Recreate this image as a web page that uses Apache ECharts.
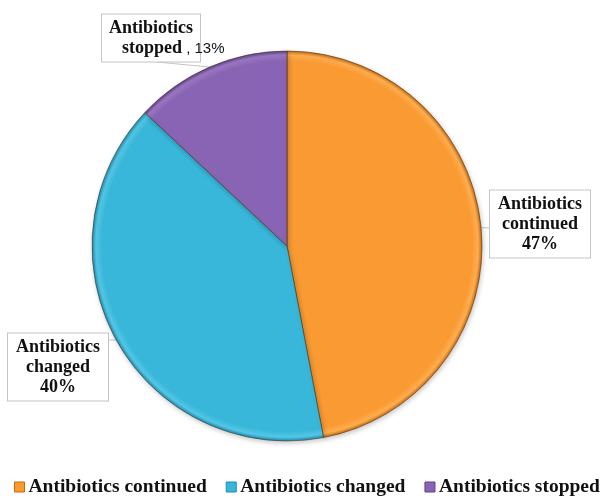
<!DOCTYPE html>
<html>
<head>
<meta charset="utf-8">
<script src="https://cdn.jsdelivr.net/npm/echarts@6/dist/echarts.min.js"></script>
<style>
  html, body { margin: 0; padding: 0; background: #fff; }
  #chart { width: 607px; height: 498px; }
</style>
</head>
<body>
<div id="chart"></div>
<script>
// Outcome of antibiotic therapy (percent of patients)
const categories = ['Antibiotics continued', 'Antibiotics changed', 'Antibiotics stopped'];
const shares = [47, 40, 13];
const colors = ['#FA9A32', '#38B7DA', '#8A64B4'];
const lightColors = ['#FFAE52', '#55C6E4', '#9A78C2'];
const darkColors = ['#C86A0C', '#1A8CB2', '#5E3F88'];

const CX = 287, CY = 246, R = 195;

const chart = echarts.init(document.getElementById('chart'));

// bevelled shading shared by all slices, centred on the pie itself
function fillFor(i) {
  return new echarts.graphic.RadialGradient(CX, CY, R, [
    { offset: 0, color: colors[i] },
    { offset: 0.95, color: colors[i] },
    { offset: 0.98, color: lightColors[i] },
    { offset: 1, color: darkColors[i] }
  ], true);
}

const textBase = {
  color: '#111',
  fontFamily: 'Liberation Serif',
  fontWeight: 'bold',
  fontSize: 18,
  lineHeight: 20
};

// call-out box positions and where each leader line meets its box
const labelSpots = [
  { x: 540, y: 224, align: 'center', anchor: [490, 228] },
  { x: 58, y: 367, align: 'center', anchor: [108, 340] },
  { x: 102, y: 38, align: 'left', anchor: [157, 62] }
];

const data = categories.map((name, i) => ({
  name,
  value: shares[i],
  itemStyle: { color: fillFor(i) }
}));

// 'stopped' label: fixed-width box, the plain percentage runs past its edge
data[2].label = {
  formatter: '{c|Antibiotics}\n{s|}{a|stopped}{b| , ' + shares[2] + '%}',
  width: 86,
  overflow: 'none',
  align: 'left',
  padding: [4, 6, 3, 6],
  rich: {
    c: Object.assign({ width: 86, align: 'center' }, textBase),
    s: { width: 14, lineHeight: 20 },
    a: Object.assign({}, textBase),
    b: { fontFamily: 'Liberation Sans', fontWeight: 'normal', fontSize: 15, color: '#111', lineHeight: 20 }
  }
};

chart.setOption({
  animation: false,
  color: colors,
  legend: {
    top: 477,
    left: 14,
    padding: 0,
    itemWidth: 10,
    itemHeight: 10,
    itemGap: 19,
    icon: 'rect',
    textStyle: { fontFamily: 'Liberation Serif', fontWeight: 'bold', fontSize: 19.5, color: '#111', padding: [0, 0, 0, -1] },
    data: categories.map((n, i) => ({ name: n, itemStyle: { color: colors[i], borderColor: darkColors[i], borderWidth: 1 } }))
  },
  series: [{
    type: 'pie',
    center: [CX, CY],
    radius: R,
    startAngle: 90,
    clockwise: true,
    data,
    itemStyle: {
      borderColor: 'rgba(70,45,20,0.55)',
      borderWidth: 1,
      shadowBlur: 5,
      shadowColor: 'rgba(0,0,0,0.22)',
      shadowOffsetX: 1,
      shadowOffsetY: 2
    },
    label: Object.assign({
      show: true,
      position: 'outside',
      overflow: 'none',
      width: 84,
      formatter: p => {
        const parts = p.name.split(' ');
        return parts[0] + '\n' + parts[1] + '\n' + p.value + '%';
      },
      align: 'center',
      backgroundColor: '#fff',
      borderColor: '#c4c4c4',
      borderWidth: 1,
      padding: [4, 8, 3, 8]
    }, textBase),
    labelLine: {
      show: true,
      length: 10,
      length2: 10,
      lineStyle: { color: '#c4c4c4', width: 1 }
    },
    labelLayout: params => {
      const s = labelSpots[params.dataIndex];
      const out = { x: s.x, y: s.y, align: s.align, verticalAlign: 'middle' };
      const pts = params.labelLinePoints;
      if (pts && pts.length) {
        out.labelLinePoints = [pts[0], s.anchor, s.anchor];
      }
      return out;
    },
    emphasis: { disabled: true }
  }]
});
</script>
</body>
</html>
